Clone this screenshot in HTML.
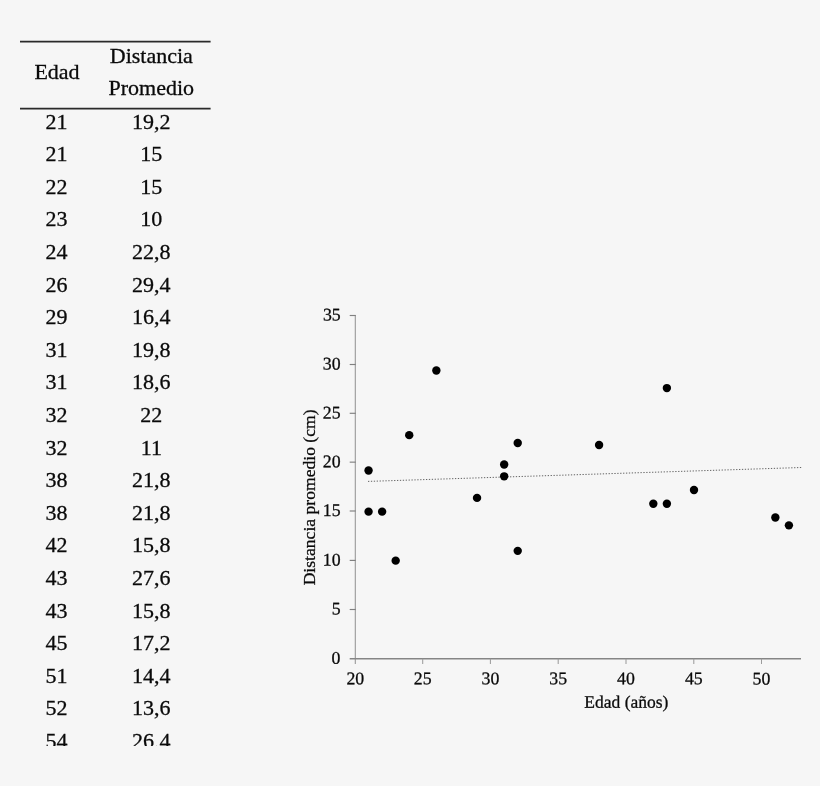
<!DOCTYPE html>
<html lang="es">
<head>
<meta charset="utf-8">
<title>Edad y distancia promedio</title>
<style>
html,body{margin:0;padding:0;}
body{width:820px;height:786px;overflow:hidden;background:#f6f6f6;font-family:"Liberation Serif","Times New Roman",serif;color:#0a0a0a;}
#page{filter:blur(0.5px);position:relative;width:820px;height:786px;overflow:hidden;background:#f6f6f6;}
#tablewrap{position:absolute;left:0;top:0;width:260px;height:745.5px;overflow:hidden;}
table{position:absolute;left:20px;top:40.0px;width:190.6px;border-collapse:collapse;border-spacing:0;font-size:22.0px;line-height:32.6px;text-align:center;-webkit-text-stroke:0.3px #0a0a0a;}
th,td{padding:0;font-weight:normal;height:32.6px;}
thead th{height:65.7px;line-height:32.2px;vertical-align:top;}
thead th.c1{padding-top:15.5px;padding-left:1px;height:50.2px;}
.c1{width:72px;}
tr>*:nth-child(2){padding-right:1px;}
svg{position:absolute;left:0;top:0;}
svg text{font-family:"Liberation Serif","Times New Roman",serif;font-size:17.8px;fill:#0a0a0a;stroke:#0a0a0a;stroke-width:0.28px;}

</style>
</head>
<body>
<div id="page">
<div id="tablewrap">
<table>
<thead><tr><th class="c1">Edad</th><th class="c2">Distancia<br>Promedio</th></tr></thead>
<tbody>
<tr><td>21</td><td>19,2</td></tr>
<tr><td>21</td><td>15</td></tr>
<tr><td>22</td><td>15</td></tr>
<tr><td>23</td><td>10</td></tr>
<tr><td>24</td><td>22,8</td></tr>
<tr><td>26</td><td>29,4</td></tr>
<tr><td>29</td><td>16,4</td></tr>
<tr><td>31</td><td>19,8</td></tr>
<tr><td>31</td><td>18,6</td></tr>
<tr><td>32</td><td>22</td></tr>
<tr><td>32</td><td>11</td></tr>
<tr><td>38</td><td>21,8</td></tr>
<tr><td>38</td><td>21,8</td></tr>
<tr><td>42</td><td>15,8</td></tr>
<tr><td>43</td><td>27,6</td></tr>
<tr><td>43</td><td>15,8</td></tr>
<tr><td>45</td><td>17,2</td></tr>
<tr><td>51</td><td>14,4</td></tr>
<tr><td>52</td><td>13,6</td></tr>
<tr><td>54</td><td>26,4</td></tr>
</tbody>
</table>
</div>
<svg width="820" height="786" viewBox="0 0 820 786">
<line x1="355.35" y1="315" x2="355.35" y2="664" stroke="#a4a4a4" stroke-width="1.25"/>
<line x1="349.7" y1="658.7" x2="801" y2="658.7" stroke="#858585" stroke-width="1.5"/>
<g stroke="#808080" stroke-width="1.15">
<line x1="349.7" y1="315.5" x2="355.75" y2="315.5"/>
<line x1="349.7" y1="364.5" x2="355.75" y2="364.5"/>
<line x1="349.7" y1="413.3" x2="355.75" y2="413.3"/>
<line x1="349.7" y1="462.15" x2="355.75" y2="462.15"/>
<line x1="349.7" y1="511.0" x2="355.75" y2="511.0"/>
<line x1="349.7" y1="560.4" x2="355.75" y2="560.4"/>
<line x1="349.7" y1="609.5" x2="355.75" y2="609.5"/>
</g>
<g stroke="#9c9c9c" stroke-width="1.05">
<line x1="422.7" y1="658.7" x2="422.7" y2="664"/>
<line x1="490.4" y1="658.7" x2="490.4" y2="664"/>
<line x1="558.2" y1="658.7" x2="558.2" y2="664"/>
<line x1="626.0" y1="658.7" x2="626.0" y2="664"/>
<line x1="693.8" y1="658.7" x2="693.8" y2="664"/>
<line x1="761.5" y1="658.7" x2="761.5" y2="664"/>
</g>
<g text-anchor="end" transform="rotate(0.03 332 487)">
<text x="340.6" y="320.60">35</text>
<text x="340.6" y="369.60">30</text>
<text x="340.6" y="418.40">25</text>
<text x="340.6" y="467.25">20</text>
<text x="340.6" y="516.10">15</text>
<text x="340.6" y="565.50">10</text>
<text x="340.6" y="614.60">5</text>
<text x="340.6" y="663.80">0</text>
</g>
<g text-anchor="middle" transform="rotate(0.03 578 680)">
<text x="355.30" y="684.3">20</text>
<text x="422.70" y="684.3">25</text>
<text x="490.40" y="684.3">30</text>
<text x="558.20" y="684.3">35</text>
<text x="626.00" y="684.3">40</text>
<text x="693.80" y="684.3">45</text>
<text x="761.50" y="684.3">50</text>
</g>
<text x="626.4" y="707.7" transform="rotate(0.03 626 704)" text-anchor="middle" style="font-size:17.5px">Edad (años)</text>
<text transform="translate(315.2,497.4) rotate(-90)" text-anchor="middle" style="font-size:17.6px">Distancia promedio (cm)</text>
<line x1="20" y1="41.7" x2="210.6" y2="41.7" stroke="#2a2a2a" stroke-width="1.7"/>
<line x1="20" y1="108.55" x2="210.6" y2="108.55" stroke="#2a2a2a" stroke-width="1.7"/>
<line x1="368" y1="481.4" x2="801.5" y2="467.5" stroke="#5c5c5c" stroke-width="0.95" stroke-dasharray="1.3 1.6"/>
<g fill="#000">
<circle cx="368.56" cy="470.44" r="4.2"/>
<circle cx="368.56" cy="511.63" r="4.2"/>
<circle cx="382.12" cy="511.63" r="4.2"/>
<circle cx="395.68" cy="560.65" r="4.2"/>
<circle cx="409.24" cy="435.15" r="4.2"/>
<circle cx="436.36" cy="370.43" r="4.2"/>
<circle cx="477.04" cy="497.90" r="4.2"/>
<circle cx="504.16" cy="464.56" r="4.2"/>
<circle cx="504.16" cy="476.33" r="4.2"/>
<circle cx="517.72" cy="442.99" r="4.2"/>
<circle cx="517.72" cy="550.85" r="4.2"/>
<circle cx="599.08" cy="444.95" r="4.2"/>
<circle cx="653.32" cy="503.78" r="4.2"/>
<circle cx="666.88" cy="388.08" r="4.2"/>
<circle cx="666.88" cy="503.78" r="4.2"/>
<circle cx="694.00" cy="490.05" r="4.2"/>
<circle cx="775.36" cy="517.51" r="4.2"/>
<circle cx="788.92" cy="525.35" r="4.2"/>
</g>
</svg>
</div>
</body>
</html>
